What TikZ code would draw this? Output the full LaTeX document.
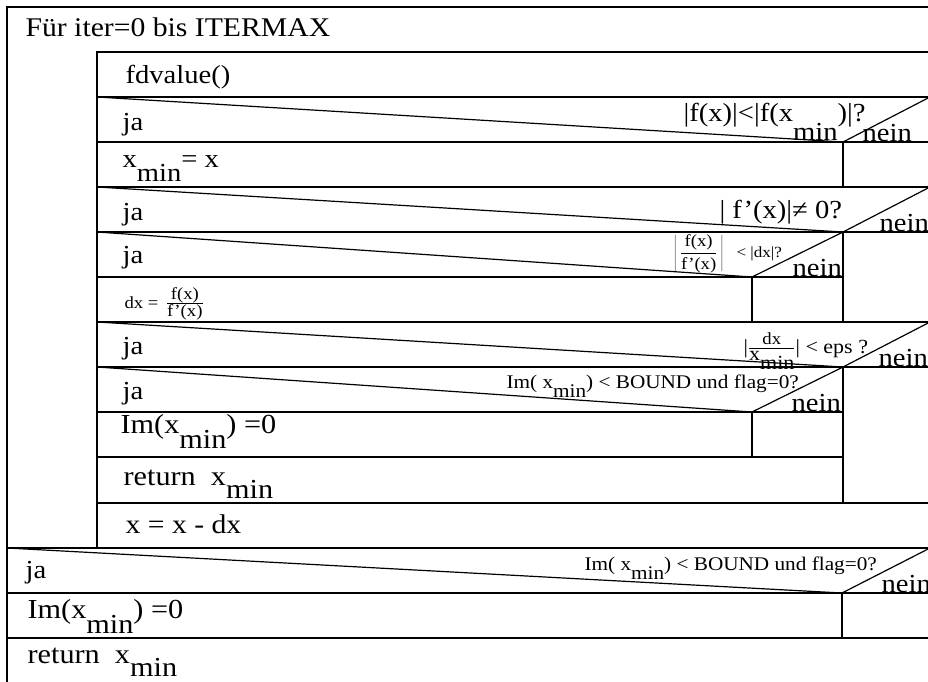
\documentclass[tikz,border=0pt]{standalone}
\usepackage{fontspec}
\setmainfont[FakeStretch=1.1]{Liberation Serif}
\usepackage{tikz}

\newcommand{\lmin}[1][0.55em]{\raisebox{-#1}{min}}
\newcommand{\fsz}[1]{\fontsize{#1}{#1}\selectfont}

\tikzset{
    lbl/.style={anchor=base west, inner sep=0pt},
    bigtxt/.style={lbl, font=\fsz{26}},
    hugetxt/.style={lbl, font=\fsz{27.5}},
    midtxt/.style={lbl, font=\fsz{19.3}},
    eptxt/.style={lbl, font=\fsz{20}},
    smalltxt/.style={lbl, font=\fsz{17}},
    tinytxt/.style={lbl, font=\fsz{15.5}}
}

\begin{document}
\begin{tikzpicture}[x=1pt, y=-1pt, line width=1.2pt]
    \useasboundingbox (0,0) rectangle (928,681);

    % 外框与循环体
    \draw (930,7) -- (7,7) -- (7,690);
    \draw (930,52) -- (97,52) -- (97,548);

    % 横线
    \foreach \y in {97, 142, 187, 232, 322, 367, 503} {
        \draw (97,\y) -- (930,\y);
    }
    \foreach \y in {277, 412, 457} {
        \draw (97,\y) -- (843,\y);
    }
    \foreach \y in {548, 593, 638} {
        \draw (7,\y) -- (930,\y);
    }

    % 竖线 (nein 分支)
    \draw (843,142) -- (843,187);
    \draw (843,232) -- (843,322);
    \draw (752,277) -- (752,322);
    \draw (843,367) -- (843,503);
    \draw (752,412) -- (752,457);
    \draw (842,593) -- (842,638);

    % 判断的斜线
    \draw (97,97) -- (843,142) -- (930,97);
    \draw (97,187) -- (843,232) -- (930,187);
    \draw (97,232) -- (752,277) -- (843,232);
    \draw (97,322) -- (843,367) -- (930,322);
    \draw (97,367) -- (752,412) -- (843,367);
    \draw (7,548) -- (842,593) -- (930,548);

    % 文字
    \node[lbl, font=\fsz{27}] (header) at (25,36) {Für iter=0 bis ITERMAX};
    \node[bigtxt] (fdval) at (125,83) {fdvalue()};

    \node[bigtxt] (ja1) at (122,130) {ja};
    \node[bigtxt] (cond1) at (683,121) {|f(x)|<|f(x\lmin[0.75em])|?};
    \node[bigtxt] (nein1) at (862,141) {nein};

    \node[bigtxt] (xminrow) at (122,167) {x\lmin= x};

    \node[bigtxt] (ja2) at (122,220) {ja};
    \node[bigtxt] (cond2) at (719,218) {| f’(x)|≠ 0?};
    \node[bigtxt] (nein2) at (879,231) {nein};

    \node[bigtxt] (ja3) at (122,263) {ja};
    \node[smalltxt] (cond3) at (673,258) {$\displaystyle\left|\,\frac{\mbox{f(x)}}{\mbox{f’(x)}}\,\right|$};
    \node[tinytxt] (cond3b) at (736,257) {< |dx|?};
    \node[bigtxt] (nein3) at (792,276) {nein};

    \node[smalltxt] (dxrow) at (124,308) {dx = \,$\frac{\mbox{f(x)}}{\mbox{f’(x)}}$};

    \node[bigtxt] (ja4) at (122,354) {ja};
    \node[eptxt] (cond4) at (743,353) {|$\frac{\mbox{\fsz{17}dx}}{\mbox{x\lmin[0.45em]}}$| < eps ?};
    \node[bigtxt] (nein4) at (878,366) {nein};

    \node[bigtxt] (ja5) at (122,399) {ja};
    \node[midtxt] (cond5) at (506,388) {Im( x\lmin[0.47em]) < BOUND und flag=0?};
    \node[bigtxt] (nein5) at (791,411) {nein};

    \node[hugetxt] (imrow) at (120,433) {Im(x\lmin) =0};
    \node[hugetxt] (retrow) at (123,485) {return \ x\lmin[0.5em]};
    \node[lbl, font=\fsz{27}] (xrow) at (125,533) {x = x - dx};

    \node[bigtxt] (ja6) at (25,578) {ja};
    \node[midtxt] (cond6) at (584,570) {Im( x\lmin[0.47em]) < BOUND und flag=0?};
    \node[bigtxt] (nein6) at (881,592) {nein};

    \node[hugetxt] (imrow2) at (27,618) {Im(x\lmin) =0};
    \node[hugetxt] (retrow2) at (27,663) {return \ x\lmin[0.5em]};
\end{tikzpicture}
\end{document}
